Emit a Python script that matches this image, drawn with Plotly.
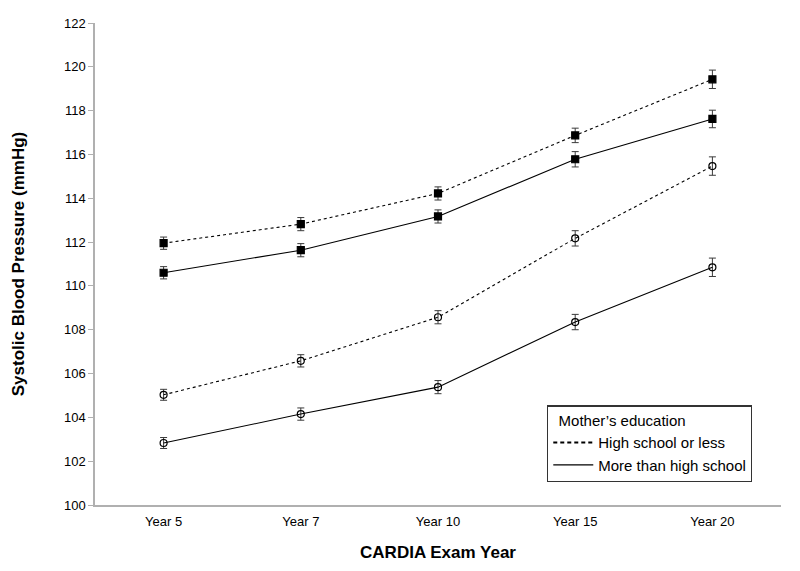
import plotly.graph_objects as go

years = ["Year 5", "Year 7", "Year 10", "Year 15", "Year 20"]

# Filled squares
sq_hs = [111.95, 112.82, 114.22, 116.87, 119.43]
sq_hs_err = [0.28, 0.3, 0.3, 0.33, 0.42]
sq_more = [110.6, 111.63, 113.17, 115.78, 117.62]
sq_more_err = [0.28, 0.3, 0.3, 0.35, 0.4]

# Open circles
ci_hs = [105.03, 106.58, 108.57, 112.17, 115.47]
ci_hs_err = [0.25, 0.28, 0.3, 0.35, 0.42]
ci_more = [102.83, 104.15, 105.38, 108.35, 110.85]
ci_more_err = [0.25, 0.28, 0.3, 0.35, 0.42]

y_ticks = list(range(100, 123, 2))

ERR = dict(type="data", visible=True, color="#3a3a3a", thickness=1, width=3.5)
DASH = "3px,3px"

fig = go.Figure()

def add(y, err, dash, filled):
    fig.add_trace(go.Scatter(
        x=years, y=y, mode="lines+markers",
        line=dict(color="black", width=1.1, dash=dash),
        marker=dict(symbol="square" if filled else "circle-open",
                    size=7,
                    color="black",
                    line=dict(color="black", width=1.2)),
        error_y=dict(array=err, **ERR),
        showlegend=False, hoverinfo="skip"))

add(sq_hs, sq_hs_err, DASH, True)
add(sq_more, sq_more_err, "solid", True)
add(ci_hs, ci_hs_err, DASH, False)
add(ci_more, ci_more_err, "solid", False)

# legend-only entries
fig.add_trace(go.Scatter(x=[None], y=[None], mode="lines", name="High school or less",
                         line=dict(color="black", width=2, dash="4px,3px")))
fig.add_trace(go.Scatter(x=[None], y=[None], mode="lines", name="More than high school",
                         line=dict(color="black", width=1.3)))

fig.update_layout(
    width=792, height=563,
    paper_bgcolor="white", plot_bgcolor="white",
    margin=dict(l=87, r=19, t=8, b=66),
    font=dict(family="Liberation Sans, Arial, sans-serif", color="black", size=13),
    xaxis=dict(type="category", range=[-0.5, 4.5], showline=True, linecolor="#b0b0b0",
               linewidth=1.5, ticks="", showgrid=False, zeroline=False,
               tickfont=dict(size=13), ticklabelstandoff=4,
               title=dict(text="<b>CARDIA Exam Year</b>", font=dict(size=17), standoff=18)),
    yaxis=dict(range=[100, 122], tickvals=y_ticks, showline=True, linecolor="#b0b0b0",
               linewidth=1.5, ticks="outside", ticklen=5, tickcolor="#b0b0b0",
               showgrid=False, zeroline=False, tickfont=dict(size=13),
               title=dict(text="<b>Systolic Blood Pressure (mmHg)</b>", font=dict(size=17),
                          standoff=35)),
    legend=dict(title=dict(text="  Mother’s education", font=dict(size=15)),
                x=0.659, y=0.2065, xanchor="left", yanchor="top",
                bordercolor="#333333", borderwidth=1.2, bgcolor="white",
                font=dict(size=15), tracegroupgap=0, itemwidth=40),
)

fig.write_html("out.html")
